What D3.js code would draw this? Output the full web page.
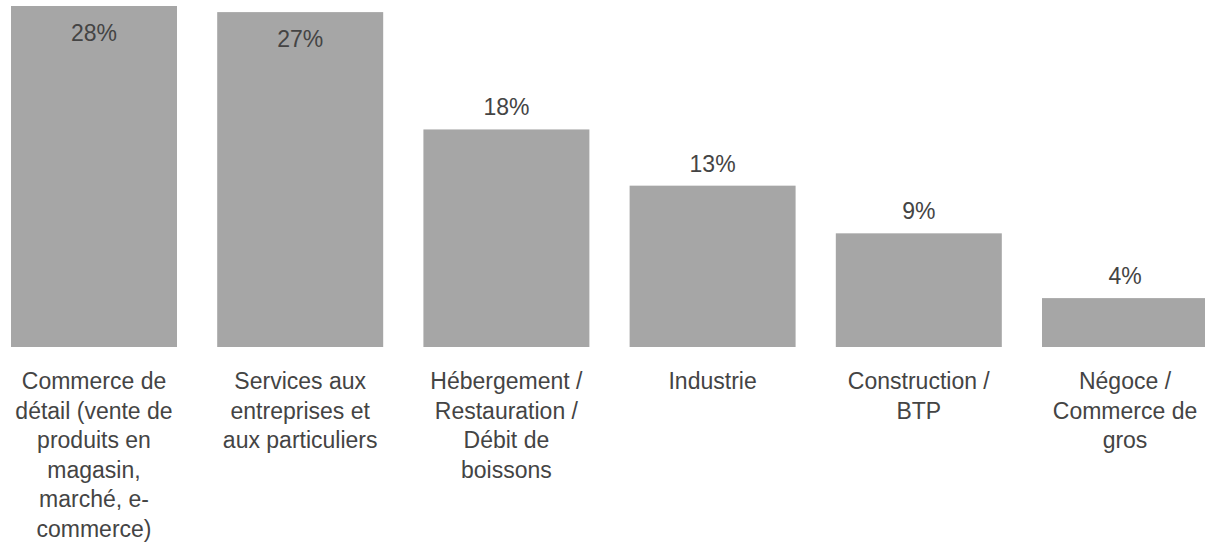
<!DOCTYPE html>
<html>
<head>
<meta charset="utf-8">
<script src="https://cdn.jsdelivr.net/npm/d3@7"></script>
<style>
	body { margin: 0; background: #fff; }
	svg { display: block; font-family: "Liberation Sans", Arial, sans-serif; }
</style>
</head>
<body>
<svg id="chart"></svg>
<script>
// data
var categories = [
	"Commerce de détail (vente de produits en magasin, marché, e-commerce)",
	"Services aux entreprises et aux particuliers",
	"Hébergement / Restauration / Débit de boissons",
	"Industrie",
	"Construction / BTP",
	"Négoce / Commerce de gros"
]
var values = [27.9, 27.4, 17.8, 13.2, 9.3, 4.0]

// size
var width = 1205
var height = 544
var baseline = 347
var plotTop = 6
var BAR_COLOR = "#a6a6a6"
var TEXT_COLOR = "#444444"
var FONT_SIZE = 23
var LINE_H = 29.6

var svg = d3.select("#chart")
	.attr("width", width)
	.attr("height", height)

var x = d3.scaleBand()
	.domain(categories)
	.range([-9.1, 1228.1])
	.paddingInner(0.195)
	.paddingOuter(0.0975)

var y = d3.scaleLinear()
	.domain([0, d3.max(values)])
	.range([baseline, plotTop])

var data = categories.map((c, i) => ({ cat: c, value: values[i] }))
var fmt = d3.format(".0f")

// bars
svg.append("g").selectAll("rect").data(data).enter().append("rect")
	.attr("x", d => x(d.cat))
	.attr("y", d => y(d.value))
	.attr("width", x.bandwidth())
	.attr("height", d => baseline - y(d.value))
	.attr("fill", BAR_COLOR)

// value labels (inside the bar when there is no room above)
svg.append("g").selectAll("text").data(data).enter().append("text")
	.attr("x", d => x(d.cat) + x.bandwidth() / 2)
	.attr("y", d => {
		var t = y(d.value)
		return t < 40 ? t + 35 : t - 14
	})
	.attr("text-anchor", "middle")
	.attr("font-size", FONT_SIZE)
	.attr("fill", TEXT_COLOR)
	.text(d => fmt(d.value) + "%")

// category labels, wrapped to the bar width (spaces and hyphens are break points)
var wrap = (textSel, maxW) => {
	textSel.each(function(d) {
		var t = d3.select(this)
		var tokens = d.cat.match(/[^\s-]+-*|\s+/g)
		var tspan = t.append("tspan")
		var lines = []
		var cur = ""
		tokens.forEach(tok => {
			var next = cur + tok
			tspan.text(next.trim())
			if (cur.trim() !== "" && !/^\s+$/.test(tok) && tspan.node().getComputedTextLength() > maxW) {
				lines.push(cur.trim())
				cur = tok
			} else cur = next
		})
		lines.push(cur.trim())
		tspan.remove()
		lines.forEach((l, i) => {
			t.append("tspan")
				.attr("x", x(d.cat) + x.bandwidth() / 2)
				.attr("y", 389 + i * LINE_H)
				.text(l)
		})
	})
}

svg.append("g").selectAll("text").data(data).enter().append("text")
	.attr("text-anchor", "middle")
	.attr("font-size", FONT_SIZE)
	.attr("fill", TEXT_COLOR)
	.call(wrap, x.bandwidth())
</script>
</body>
</html>
